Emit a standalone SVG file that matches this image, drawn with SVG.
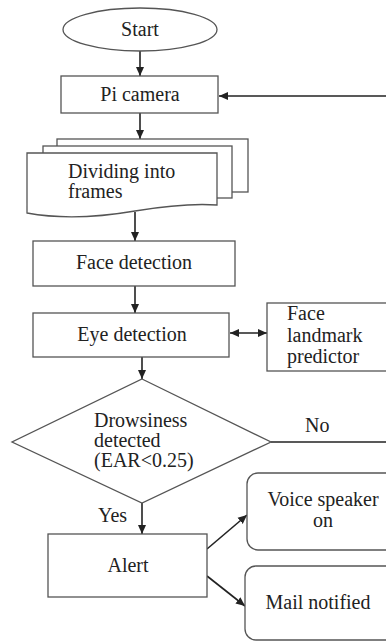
<svg xmlns="http://www.w3.org/2000/svg" width="386" height="642" viewBox="0 0 386 642">
<style>
.s{fill:#fff;stroke:#555;stroke-width:1.3}
.t{font-family:'Liberation Serif','Times New Roman',serif;font-size:20px;fill:#222}
.m{text-anchor:middle}
.c{fill:none;stroke:#222;stroke-width:1.6}
</style>
<defs>
<marker id="a" markerWidth="10" markerHeight="10" refX="9" refY="5" orient="auto" markerUnits="userSpaceOnUse">
<path d="M0,1 L9,5 L0,9 Z" fill="#222"/>
</marker>
<marker id="b" markerWidth="10" markerHeight="10" refX="1" refY="5" orient="auto" markerUnits="userSpaceOnUse">
<path d="M10,1 L1,5 L10,9 Z" fill="#222"/>
</marker>
</defs>
<rect width="386" height="642" fill="#fff"/>
<g id="connectors">
<line class="c" x1="140" y1="51" x2="140" y2="76" marker-end="url(#a)"/>
<line class="c" x1="386" y1="96" x2="219" y2="96" marker-end="url(#a)"/>
<line class="c" x1="140" y1="113" x2="140" y2="139" marker-end="url(#a)"/>
<line class="c" x1="135" y1="212" x2="135" y2="241" marker-end="url(#a)"/>
<line class="c" x1="135" y1="286" x2="135" y2="313" marker-end="url(#a)"/>
<line class="c" x1="230" y1="333" x2="267" y2="333" marker-start="url(#b)" marker-end="url(#a)"/>
<line class="c" x1="142" y1="357" x2="142" y2="379" marker-end="url(#a)"/>
<line class="c" x1="271" y1="442" x2="386" y2="442"/>
<line class="c" x1="142" y1="503" x2="142" y2="534" marker-end="url(#a)"/>
<line class="c" x1="207" y1="549" x2="247" y2="515" marker-end="url(#a)"/>
<line class="c" x1="207" y1="576" x2="245" y2="606" marker-end="url(#a)"/>
</g>
<g id="start">
<ellipse class="s" cx="140" cy="29.5" rx="77" ry="21.5"/>
<text class="t m" x="140" y="36">Start</text>
</g>
<g id="picamera">
<rect class="s" x="61" y="76" width="157" height="37"/>
<text class="t m" x="140" y="101">Pi camera</text>
</g>
<g id="frames">
<rect class="s" x="57" y="139" width="191" height="53"/>
<rect class="s" x="43" y="146" width="189" height="52"/>
<path class="s" d="M27,153 H217 V205 C190,203 165,206 135,211 C100,217 65,220 27,213 Z"/>
<text class="t" x="68" y="178">Dividing into</text>
<text class="t" x="68" y="198">frames</text>
</g>
<g id="facedetection">
<rect class="s" x="33" y="241" width="202" height="45"/>
<text class="t m" x="134" y="269">Face detection</text>
</g>
<g id="eyedetection">
<rect class="s" x="33" y="313" width="196" height="44"/>
<text class="t m" x="132" y="341">Eye detection</text>
</g>
<g id="landmark">
<rect class="s" x="267" y="303" width="125" height="68"/>
<text class="t" x="287" y="320">Face</text>
<text class="t" x="287" y="342">landmark</text>
<text class="t" x="287" y="363">predictor</text>
</g>
<g id="decision">
<polygon class="s" points="142,379 271,442 142,503 12,442"/>
<text class="t" x="94" y="427">Drowsiness</text>
<text class="t" x="94" y="447">detected</text>
<text class="t" x="94" y="467">(EAR&lt;0.25)</text>
<text class="t" x="305" y="432">No</text>
<text class="t" x="98" y="522">Yes</text>
</g>
<g id="alert">
<rect class="s" x="48" y="534" width="159" height="63"/>
<text class="t m" x="128" y="572">Alert</text>
</g>
<g id="voice">
<rect class="s" x="247" y="473" width="150" height="77" rx="11"/>
<text class="t m" x="323" y="506">Voice speaker</text>
<text class="t m" x="323" y="527">on</text>
</g>
<g id="mail">
<rect class="s" x="245" y="566" width="152" height="74" rx="11"/>
<text class="t m" x="318" y="609">Mail notified</text>
</g>
</svg>
